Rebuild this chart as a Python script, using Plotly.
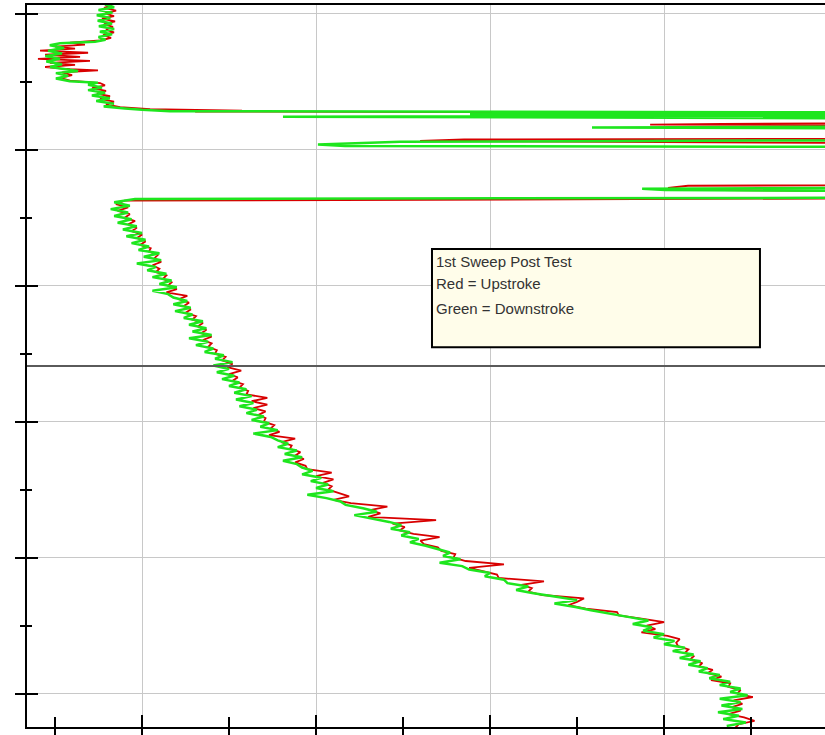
import plotly.graph_objects as go

# ---------------- data (depth in ft, reading in scale units) ----------------
OFF = 6.0  # reading beyond the right end of the scale

green_top_depth = [993.0, 995.0, 997.0, 999.0, 1001.0, 1003.0, 1005.0, 1007.0,
                   1009.0, 1011.0, 1013.0, 1015.0, 1017.0, 1019.0, 1020.5, 1021.5,
                   1023.0, 1025.0, 1027.0, 1029.0, 1031.0, 1033.0, 1035.0, 1037.0,
                   1039.0, 1041.0, 1042.0, 1043.5, 1045.5, 1047.5, 1049.5, 1050.5,
                   1052.0, 1054.0, 1056.0, 1058.0, 1060.0, 1062.0, 1064.0, 1066.0,
                   1068.0, 1069.5, 1070.5, 1071.5, 1072.5, 1073.5, 1074.5, 1075.5,
                   1077.0, 1082.5, 1083.5, 1084.5, 1092.5, 1094.0, 1095.0, 1096.0,
                   1097.0, 1098.0, 1127.5, 1128.5, 1129.5, 1130.5, 1135.0]
green_top_x = [0.787, 0.840, 0.750, 0.830, 0.740, 0.818, 0.745, 0.828,
               0.752, 0.840, 0.758, 0.828, 0.750, 0.790, 0.730, 0.529,
               0.470, 0.552, 0.460, 0.540, 0.444, 0.528, 0.450, 0.540,
               0.472, 0.565, 0.632, 0.505, 0.575, 0.505, 0.585, 0.747,
               0.690, 0.770, 0.690, 0.788, 0.712, 0.815, 0.737, 0.838,
               0.780, 0.902, 1.000, 1.161, OFF, 2.885, OFF, 1.810,
               OFF, OFF, 3.586, OFF, OFF, 2.483, 2.253, 2.011,
               2.167, OFF, OFF, 3.874, 4.006, OFF, OFF]

green_main_depth = [1136.0, 1138.5, 1141.0, 1143.5, 1146.0, 1148.5, 1151.0, 1153.5,
                    1156.0, 1158.5, 1161.0, 1163.5, 1166.0, 1168.5, 1171.0, 1173.5,
                    1176.0, 1178.5, 1181.0, 1183.5, 1186.0, 1188.5, 1191.0, 1193.5,
                    1196.0, 1198.5, 1201.0, 1203.5, 1206.0, 1208.5, 1211.0, 1213.5,
                    1216.0, 1218.5, 1221.0, 1223.5, 1226.0, 1228.5, 1231.0, 1233.5,
                    1236.0, 1238.5, 1241.0, 1243.5, 1246.0, 1248.5, 1251.0, 1253.5,
                    1256.0, 1258.5, 1261.0, 1263.5, 1266.0, 1268.5, 1271.0, 1273.5,
                    1276.0, 1278.5, 1281.0, 1283.5, 1286.0, 1288.5, 1291.0, 1293.5,
                    1296.0, 1298.5, 1301.0, 1303.5, 1306.0, 1308.5, 1311.0, 1313.5,
                    1316.0, 1318.5, 1321.0, 1323.5, 1326.0, 1328.5, 1331.0, 1333.5,
                    1336.0, 1338.5, 1341.0, 1343.5, 1346.0, 1348.5, 1351.0, 1353.5,
                    1356.0, 1358.5, 1361.0, 1363.5, 1366.0, 1368.5, 1371.0, 1373.5,
                    1376.0, 1378.5, 1381.0, 1383.5, 1386.0, 1388.5, 1391.0, 1393.5,
                    1396.0, 1398.5, 1401.0, 1403.5, 1406.0, 1408.5, 1411.0, 1413.5,
                    1416.0, 1418.5, 1421.0, 1423.5, 1426.0, 1428.5, 1431.0, 1433.5,
                    1436.0, 1438.5, 1441.0, 1443.5, 1446.0, 1448.5, 1451.0, 1453.5,
                    1456.0, 1458.5, 1461.0, 1463.5, 1466.0, 1468.5, 1471.0, 1473.5,
                    1476.0, 1478.5, 1481.0, 1483.5, 1486.0, 1488.5, 1491.0, 1493.5,
                    1496.0, 1498.5, 1501.0, 1503.5, 1506.0, 1508.5, 1511.0, 1513.5,
                    1516.0, 1518.5, 1521.0, 1523.5]
green_main_x = [0.96, 0.84, 0.93, 0.82, 0.92, 0.84, 0.94, 0.86,
                0.97, 0.89, 1.00, 0.91, 1.02, 0.94, 1.04, 0.98,
                1.10, 1.01, 1.11, 0.97, 1.08, 1.03, 1.14, 1.06,
                1.17, 1.10, 1.20, 1.06, 1.15, 1.18, 1.26, 1.18,
                1.28, 1.19, 1.29, 1.24, 1.35, 1.27, 1.37, 1.29,
                1.40, 1.27, 1.38, 1.31, 1.41, 1.36, 1.47, 1.42,
                1.52, 1.41, 1.50, 1.43, 1.53, 1.46, 1.56, 1.50,
                1.60, 1.53, 1.63, 1.54, 1.64, 1.56, 1.66, 1.60,
                1.70, 1.63, 1.73, 1.68, 1.78, 1.64, 1.74, 1.78,
                1.84, 1.78, 1.89, 1.82, 1.92, 1.81, 1.89, 1.92,
                1.98, 1.92, 2.03, 1.97, 2.07, 2.00, 2.10, 1.95,
                2.06, 2.14, 2.17, 2.27, 2.35, 2.22, 2.32, 2.42,
                2.49, 2.43, 2.54, 2.49, 2.59, 2.54, 2.63, 2.70,
                2.77, 2.73, 2.83, 2.71, 2.84, 2.88, 3.00, 2.97,
                3.08, 3.10, 3.22, 3.15, 3.25, 3.38, 3.50, 3.37,
                3.49, 3.58, 3.70, 3.80, 3.91, 3.82, 3.93, 3.88,
                4.00, 3.94, 4.06, 4.00, 4.12, 4.05, 4.17, 4.09,
                4.21, 4.14, 4.25, 4.20, 4.32, 4.26, 4.38, 4.32,
                4.44, 4.38, 4.48, 4.32, 4.44, 4.33, 4.45, 4.31,
                4.43, 4.34, 4.47, 4.36]

red_top_depth = [993.5, 995.5, 997.5, 999.5, 1001.5, 1003.5, 1005.5, 1007.5,
                 1009.5, 1011.5, 1013.5, 1015.5, 1017.5, 1019.5, 1021.0, 1022.5,
                 1024.0, 1025.5, 1027.0, 1028.5, 1030.0, 1031.5, 1033.0, 1034.5,
                 1036.0, 1037.5, 1039.0, 1040.5, 1041.5, 1043.0, 1045.0, 1047.0,
                 1049.0, 1050.8, 1052.5, 1054.5, 1056.5, 1058.5, 1060.5, 1062.5,
                 1064.5, 1066.5, 1068.5, 1070.0, 1071.0, 1071.8, 1072.8, 1080.0,
                 1080.8, 1081.3, 1082.0, 1091.5, 1092.3, 1093.3, 1095.5, 1125.5,
                 1126.3, 1127.8, 1129.3, 1131.0, 1135.3]
red_top_x = [0.828, 0.782, 0.851, 0.787, 0.839, 0.770, 0.845, 0.782,
             0.833, 0.793, 0.839, 0.776, 0.822, 0.759, 0.586, 0.672,
             0.500, 0.615, 0.414, 0.690, 0.443, 0.644, 0.402, 0.701,
             0.471, 0.615, 0.443, 0.586, 0.747, 0.540, 0.598, 0.529,
             0.586, 0.759, 0.787, 0.713, 0.793, 0.741, 0.816, 0.759,
             0.839, 0.793, 0.874, 1.046, 1.575, 1.305, OFF, OFF,
             4.333, 3.920, OFF, OFF, 2.851, 2.598, OFF, OFF,
             4.138, 4.023, 4.092, OFF, OFF]

red_main_depth = [1137.25, 1139.75, 1142.25, 1144.75, 1147.25, 1149.75, 1152.25, 1154.75,
                  1157.25, 1159.75, 1162.25, 1164.75, 1167.25, 1169.75, 1172.25, 1174.75,
                  1177.25, 1179.75, 1182.25, 1184.75, 1187.25, 1189.75, 1192.25, 1194.75,
                  1197.25, 1199.75, 1202.25, 1204.75, 1207.25, 1209.75, 1212.25, 1214.75,
                  1217.25, 1219.75, 1222.25, 1224.75, 1227.25, 1229.75, 1232.25, 1234.75,
                  1237.25, 1239.75, 1242.25, 1244.75, 1247.25, 1249.75, 1252.25, 1254.75,
                  1257.25, 1259.75, 1262.25, 1264.75, 1267.25, 1269.75, 1272.25, 1274.75,
                  1277.25, 1279.75, 1282.25, 1284.75, 1287.25, 1289.75, 1292.25, 1294.75,
                  1297.25, 1299.75, 1302.25, 1304.75, 1307.25, 1309.75, 1312.25, 1314.75,
                  1317.25, 1319.75, 1322.25, 1324.75, 1327.25, 1329.75, 1332.25, 1334.75,
                  1337.25, 1339.75, 1342.25, 1344.75, 1347.25, 1349.75, 1352.25, 1354.75,
                  1357.25, 1359.75, 1362.25, 1364.75, 1367.25, 1369.75, 1372.25, 1374.75,
                  1377.25, 1379.75, 1382.25, 1384.75, 1387.25, 1389.75, 1392.25, 1394.75,
                  1397.25, 1399.75, 1402.25, 1404.75, 1407.25, 1409.75, 1412.25, 1414.75,
                  1417.25, 1419.75, 1422.25, 1424.75, 1427.25, 1429.75, 1432.25, 1434.75,
                  1437.25, 1439.75, 1442.25, 1444.75, 1447.25, 1449.75, 1452.25, 1454.75,
                  1457.25, 1459.75, 1462.25, 1464.75, 1467.25, 1469.75, 1472.25, 1474.75,
                  1477.25, 1479.75, 1482.25, 1484.75, 1487.25, 1489.75, 1492.25, 1494.75,
                  1497.25, 1499.75, 1502.25, 1504.75, 1507.25, 1509.75, 1512.25, 1514.75,
                  1517.25, 1519.75, 1522.25, 1524.75]
red_main_x = [0.90, 0.85, 0.92, 0.86, 0.93, 0.90, 0.96, 0.92,
              0.97, 0.94, 1.00, 0.97, 1.02, 0.99, 1.05, 1.04,
              1.09, 1.07, 1.11, 1.06, 1.10, 1.08, 1.14, 1.12,
              1.17, 1.15, 1.20, 1.14, 1.26, 1.21, 1.27, 1.24,
              1.28, 1.25, 1.31, 1.29, 1.35, 1.32, 1.37, 1.34,
              1.40, 1.35, 1.40, 1.38, 1.43, 1.42, 1.48, 1.46,
              1.52, 1.49, 1.57, 1.50, 1.55, 1.52, 1.58, 1.56,
              1.61, 1.60, 1.72, 1.63, 1.72, 1.64, 1.71, 1.67,
              1.71, 1.70, 1.76, 1.74, 1.79, 1.73, 1.88, 1.80,
              1.86, 1.85, 1.91, 1.88, 1.93, 1.88, 1.94, 1.95,
              2.09, 2.00, 2.10, 2.04, 2.09, 2.07, 2.13, 2.19,
              2.10, 2.20, 2.41, 2.31, 2.37, 2.30, 2.69, 2.44,
              2.51, 2.48, 2.56, 2.71, 2.60, 2.62, 2.70, 2.72,
              2.80, 2.79, 2.86, 3.08, 2.88, 2.97, 3.04, 3.05,
              3.31, 3.18, 3.24, 3.22, 3.30, 3.54, 3.50, 3.45,
              3.55, 3.73, 3.74, 3.88, 4.00, 3.90, 3.95, 3.87,
              4.02, 4.09, 4.07, 4.08, 4.14, 4.12, 4.17, 4.15,
              4.22, 4.20, 4.28, 4.25, 4.33, 4.27, 4.38, 4.37,
              4.44, 4.42, 4.51, 4.40, 4.45, 4.39, 4.44, 4.37,
              4.46, 4.52, 4.43, 4.41]

marker_depth = 1258.8
legend_lines = ["1st Sweep Post Test", "Red = Upstroke", "Green = Downstroke"]

x_range = [0.339, 4.925]
y_range = [1524.3, 993.4]

# ---------------- figure ----------------
fig = go.Figure()
fig.add_trace(go.Scatter(x=red_top_x + red_main_x, y=red_top_depth + red_main_depth,
                         mode="lines", line=dict(color="#d80000", width=1.8),
                         hoverinfo="skip"))
fig.add_trace(go.Scatter(x=green_top_x + green_main_x, y=green_top_depth + green_main_depth,
                         mode="lines", line=dict(color="#1ee61e", width=2.5),
                         hoverinfo="skip"))
fig.add_trace(go.Scatter(x=[], y=[], xaxis="x2", yaxis="y2", hoverinfo="skip"))

fig.add_shape(type="line", xref="paper", x0=0, x1=1, yref="y", y0=marker_depth, y1=marker_depth,
              line=dict(color="#5a5a5a", width=2))

# legend box
fig.add_shape(type="rect", xref="paper", yref="paper", x0=0.5075, x1=0.9185, y0=0.526, y1=0.662,
              fillcolor="#fffdea", line=dict(color="black", width=2))
for txt, yp in zip(legend_lines, [0.6454, 0.6136, 0.5803]):
    fig.add_annotation(text=txt, xref="paper", yref="paper", x=0.510, y=yp,
                       xanchor="left", yanchor="middle", showarrow=False,
                       font=dict(family="Liberation Sans, Arial", size=15, color="#333333"))

common = dict(showticklabels=False, zeroline=False, tickcolor="black", tickwidth=2)
fig.update_layout(
    width=825, height=735, margin=dict(l=27, r=0, t=5, b=8),
    paper_bgcolor="white", plot_bgcolor="white", showlegend=False,
    xaxis=dict(range=x_range, tick0=0, dtick=1, ticks="outside", ticklen=8,
               showgrid=True, gridcolor="#c8c8c8", gridwidth=1,
               showline=True, linecolor="black", linewidth=2, mirror=True,
               minor=dict(tick0=0, dtick=0.5, ticks="outside", ticklen=6,
                          tickcolor="black", tickwidth=2, showgrid=False), **common),
    yaxis=dict(range=y_range, tick0=1000, dtick=100, ticks="outside", ticklen=10,
               showgrid=True, gridcolor="#c8c8c8", gridwidth=1,
               showline=True, linecolor="black", linewidth=2,
               minor=dict(tick0=1000, dtick=50, ticks="outside", ticklen=5,
                          tickcolor="black", tickwidth=2, showgrid=False), **common),
    xaxis2=dict(range=x_range, overlaying="x", anchor="y2", side="bottom",
                tick0=0, dtick=1, ticks="inside", ticklen=12, showgrid=False, showline=False,
                minor=dict(tick0=0, dtick=0.5, ticks="inside", ticklen=10,
                           tickcolor="black", tickwidth=2, showgrid=False), **common),
    yaxis2=dict(range=y_range, overlaying="y", anchor="x2", side="left",
                tick0=1000, dtick=100, ticks="inside", ticklen=11, showgrid=False, showline=False,
                minor=dict(tick0=1000, dtick=50, ticks="inside", ticklen=5,
                           tickcolor="black", tickwidth=2, showgrid=False), **common),
)

fig.write_html("out.html")
